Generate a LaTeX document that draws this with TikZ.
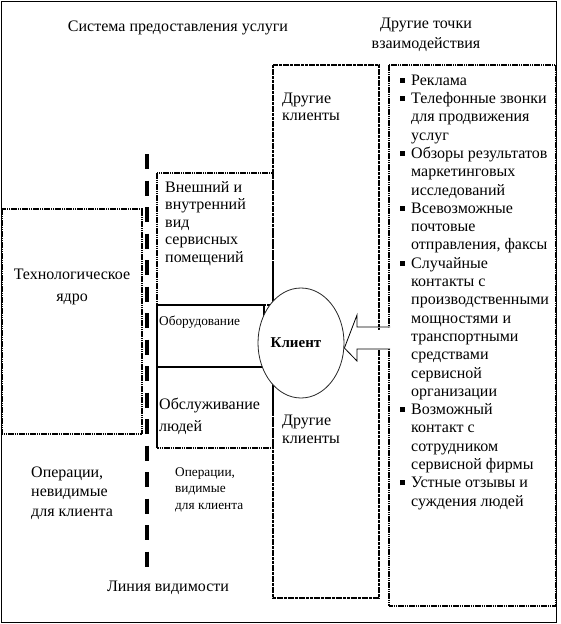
\documentclass[tikz,border=0pt]{standalone}
\usepackage{fontspec}
\setmainfont{Liberation Serif}
\usetikzlibrary{shapes.geometric}
\newcommand\bul{\raisebox{2.5pt}{\rule{5pt}{5pt}}\hspace{6pt}}
\newcommand\fsz[2]{\fontsize{#1}{#2}\selectfont}
\newcommand\strt[1]{\rule{0pt}{#1}}
\begin{document}
\begin{tikzpicture}[x=1pt,y=-1pt,
  dotbox/.style={draw=black, line width=1.5pt, dash pattern=on 1.6pt off 0.6pt},
  solidbox/.style={draw=black, line width=1.2pt},
  centralbox/.style={draw=black, line width=2.2pt, dash pattern=on 3pt off 0.7pt},
  lbl/.style={inner sep=0pt, anchor=north west, align=left},
  sepline/.style={line width=4pt, dash pattern=on 15pt off 11.5pt},
]
\useasboundingbox (0,0) rectangle (560,624);
\draw[line width=1pt] (1,1) rectangle (556,622);

% boxes
\draw[dotbox] (2,209) rectangle (142,434);
\draw[dotbox] (157,173) rectangle (273,305);
\draw[solidbox] (157,305) rectangle (264,367);
\draw[dotbox] (157,367) -- (157,448) -- (273,448) -- (273,367);
\draw[solidbox] (157,367) -- (157,448);
\draw[dotbox] (389,65) rectangle (556,606);
\draw[line width=1pt] (556,606) -- (556,622);
\draw[centralbox] (273,65) rectangle (379,598);

% line of visibility
\coordinate (sepA) at (147,154);
\coordinate (sepB) at (147,567);
\draw[sepline] (sepA) -- (sepB);

% client ellipse
\node[ellipse, draw=black!85, line width=0.8pt, fill=white, minimum width=86pt,
      minimum height=110pt, inner sep=0pt] (client) at (301,343) {};
\node[font=\fsz{15}{16}\bfseries, anchor=base] (clientlbl) at (296,347) {Клиент};

% block arrow from other contact points to the client
\coordinate (tip) at ([yshift=-5pt]client.east);
\fill[white] (tip) -- ++(13,-23) -- ++(0,11) -- (390,327) -- (390,349) -- (357,349) -- (357,361) -- cycle;
\draw[line width=0.8pt, line join=miter] (390,327) -- (357,327) -- (357,315) -- (tip) -- (357,361) -- (357,349) -- (390,349);

% texts
\node[font=\fsz{16}{18}, anchor=base] (title) at (178,31) {Система предоставления услуги};
\node[font=\fsz{16}{20}, inner sep=0pt, anchor=north, align=center] (other) at (426,16)
  {\strt{12pt}Другие точки\\взаимодействия};
\node[font=\fsz{16}{22}, inner sep=0pt, anchor=north, align=center] (core) at (72,267)
  {\strt{12pt}Технологическое\\ядро};
\node[font=\fsz{16}{17.5}, lbl] (exterior) at (165,180)
  {\strt{12pt}Внешний и\\внутренний\\вид\\сервисных\\помещений};
\node[font=\fsz{13.3}{16}, inner sep=0pt, anchor=base west] (equip) at (159,325) {Оборудование};
\node[font=\fsz{16}{22}, lbl] (staff) at (159,397) {\strt{12pt}Обслуживание\\людей};
\node[font=\fsz{16}{17}, lbl] (othtop) at (282,91) {\strt{12pt}Другие\\клиенты};
\node[font=\fsz{16}{18}, lbl] (othbot) at (282,413) {\strt{12pt}Другие\\клиенты};
\node[font=\fsz{16}{19.5}, lbl] (invis) at (31,465) {\strt{12pt}Операции,\\невидимые\\для клиента};
\node[font=\fsz{13.3}{16.5}, lbl] (vis) at (175,466) {\strt{10pt}Операции,\\видимые\\для клиента};
\node[font=\fsz{16}{18}, anchor=base] (visline) at (168,591) {Линия видимости};

\node[font=\fsz{16}{18.3}, lbl] (list) at (411,73)
  {\strt{12pt}\llap{\bul}Реклама\\
   \llap{\bul}Телефонные звонки\\
   для продвижения\\
   услуг\\
   \llap{\bul}Обзоры результатов\\
   маркетинговых\\
   исследований\\
   \llap{\bul}Всевозможные\\
   почтовые\\
   отправления, факсы\\
   \llap{\bul}Случайные\\
   контакты с\\
   производственными\\
   мощностями и\\
   транспортными\\
   средствами\\
   сервисной\\
   организации\\
   \llap{\bul}Возможный\\
   контакт с\\
   сотрудником\\
   сервисной фирмы\\
   \llap{\bul}Устные отзывы и\\
   суждения людей};
\end{tikzpicture}
\end{document}
